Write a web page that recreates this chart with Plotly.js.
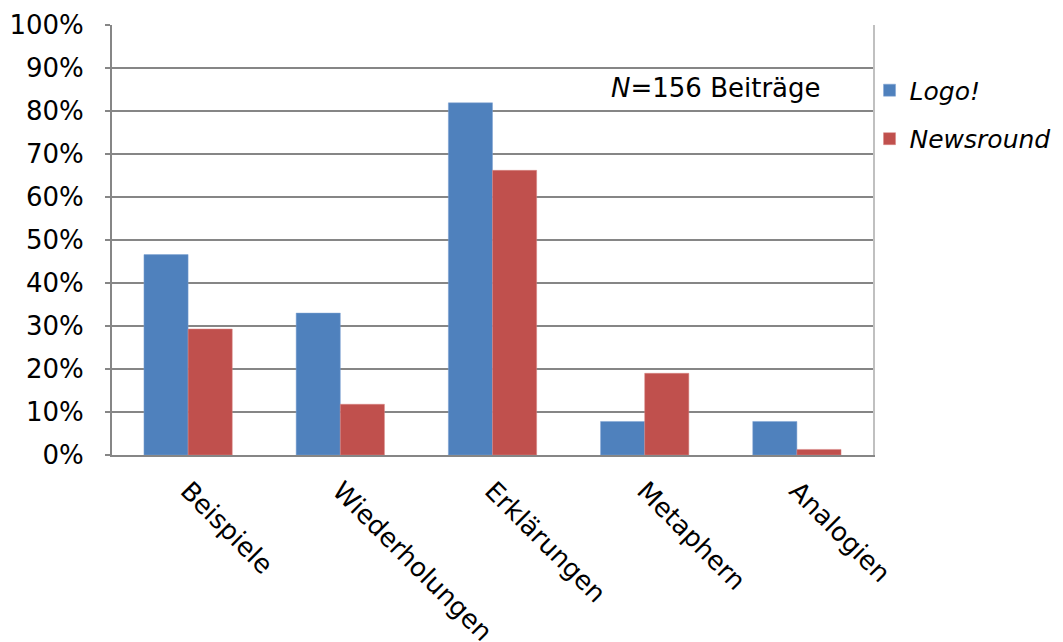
<!DOCTYPE html>
<html>
<head>
<meta charset="utf-8">
<script src="https://cdn.plot.ly/plotly-3.0.1.min.js"></script>
<style>html,body{margin:0;padding:0;background:#fff;}#chart{width:1063px;height:642px;}</style>
</head>
<body>
<div id="chart"></div>
<script>
const categories = ["Beispiele", "Wiederholungen", "Erklärungen", "Metaphern", "Analogien"];
const logoValues = [0.466, 0.330, 0.819, 0.078, 0.078];
const newsroundValues = [0.293, 0.118, 0.662, 0.190, 0.013];
const seriesNames = ["<i>Logo!</i>", "<i>Newsround</i>"];
const yTickVals = [0, 0.1, 0.2, 0.3, 0.4, 0.5, 0.6, 0.7, 0.8, 0.9, 1.0];
const yTickText = ["0%", "10%", "20%", "30%", "40%", "50%", "60%", "70%", "80%", "90%", "100%"];
const noteText = "<i>N</i>=156 Beiträge";

const font = "DejaVu Sans, Verdana, sans-serif";
const fs = 26;

const traces = [
  {type: "bar", x: categories, y: logoValues, name: seriesNames[0], legendgroup: "a",
   marker: {color: "#4f81bd", line: {color: "#7ea3d3", width: 0.5}}},
  {type: "bar", x: categories, y: newsroundValues, name: seriesNames[1], legendgroup: "b",
   marker: {color: "#c0504d", line: {color: "#d98684", width: 0.5}}},
  {type: "scatter", x: [categories[0]], y: [0], yaxis: "y2", showlegend: false, hoverinfo: "skip",
   mode: "markers", marker: {opacity: 0}}
];

const layout = {
  width: 1063, height: 642,
  margin: {l: 112, r: 190, t: 25, b: 187, pad: 0, autoexpand: false},
  paper_bgcolor: "#fff", plot_bgcolor: "#fff",
  font: {family: font, size: fs, color: "#000"},
  barmode: "group",
  bargap: 0.42,
  bargroupgap: 0,
  showlegend: true,
  legend: {xref: "container", yref: "container", x: 0.818, y: 0.895, xanchor: "left", yanchor: "top",
           font: {family: font, size: 25, color: "#000"},
           traceorder: "grouped", tracegroupgap: 13, itemwidth: 30, bgcolor: "rgba(0,0,0,0)"},
  xaxis: {type: "category", tickangle: 45, showline: true, linecolor: "#868686", linewidth: 2,
          ticks: "", showgrid: false, tickfont: {family: font, size: fs}, automargin: false,
          ticklabelstandoff: 8},
  yaxis: {range: [0, 1], tickvals: yTickVals, ticktext: yTickText, showgrid: true,
          gridcolor: "#868686", gridwidth: 2, showline: true, linecolor: "#868686", linewidth: 2,
          ticks: "outside", ticklen: 5, tickcolor: "#868686", tickwidth: 2, zeroline: false,
          tickfont: {family: font, size: fs}, automargin: false, ticklabelstandoff: 16},
  yaxis2: {overlaying: "y", side: "right", range: [0, 1], showline: true, linecolor: "#c0c0c0",
           linewidth: 2, showticklabels: false, showgrid: false, zeroline: false, ticks: "",
           automargin: false},
  annotations: [{xref: "paper", yref: "paper", x: 0.794, y: 0.853, text: noteText,
                 showarrow: false, font: {family: font, size: fs, color: "#000"},
                 xanchor: "center", yanchor: "middle"}]
};

Plotly.newPlot("chart", traces, layout, {displayModeBar: false, staticPlot: true});
</script>
</body>
</html>
